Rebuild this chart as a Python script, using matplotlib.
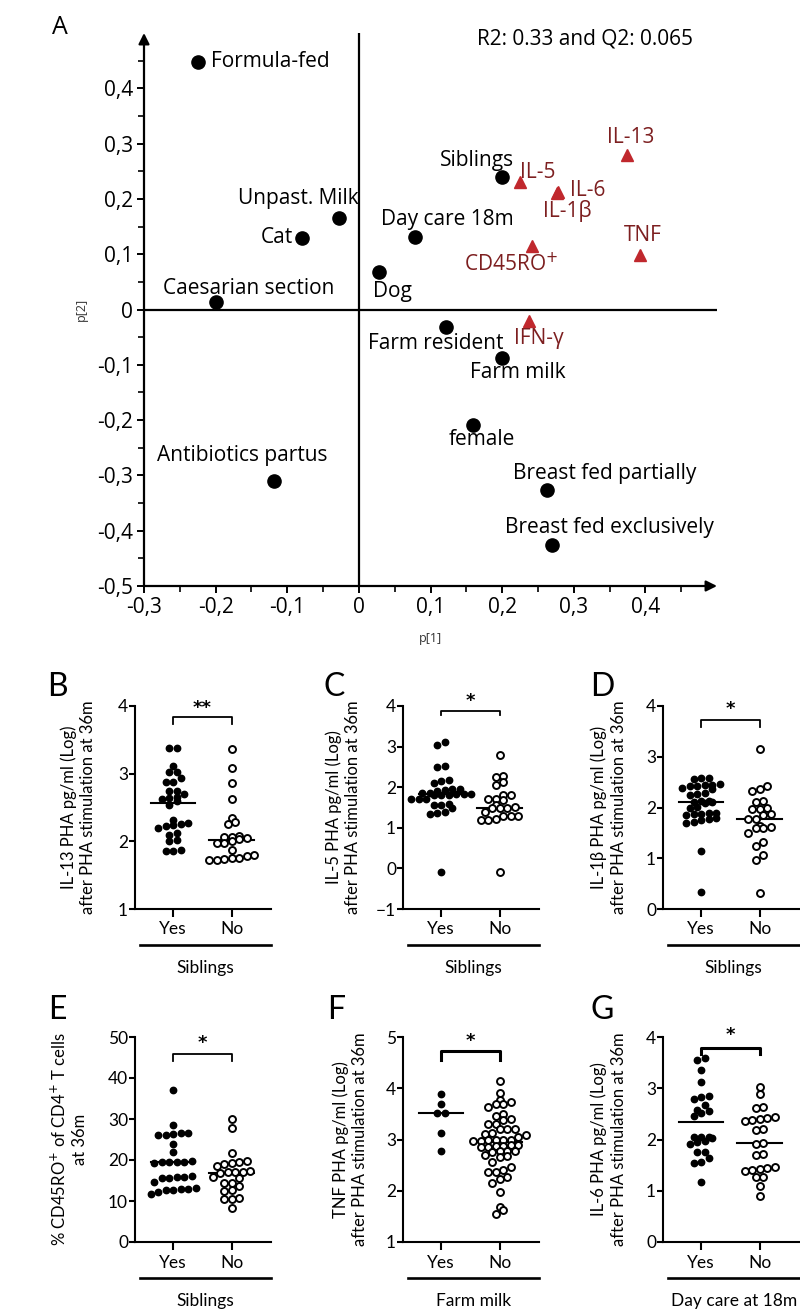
import numpy as np
import matplotlib
matplotlib.use('Agg')
import matplotlib.pyplot as plt
from matplotlib.ticker import FixedLocator, FuncFormatter

# ---- panel A: PCA loadings ----
var_names = ['Formula-fed', 'Unpast. Milk', 'Cat', 'Caesarian section', 'Dog',
             'Day care 18m', 'Siblings', 'Farm resident', 'Farm milk', 'female',
             'Breast fed partially', 'Breast fed exclusively', 'Antibiotics partus']
var_p1 = [-0.224, -0.028, -0.079, -0.200, 0.028, 0.078, 0.200, 0.122, 0.200, 0.160, 0.263, 0.269, -0.118]
var_p2 = [0.448, 0.165, 0.130, 0.013, 0.067, 0.132, 0.239, -0.031, -0.087, -0.208, -0.327, -0.425, -0.311]

cyt_names = ['IL-5', 'IL-6', 'IL-1β', 'IL-13', 'TNF', 'CD45RO$^{+}$', 'IFN-γ']
cyt_p1 = [0.225, 0.278, 0.277, 0.375, 0.393, 0.242, 0.238]
cyt_p2 = [0.231, 0.212, 0.210, 0.280, 0.098, 0.114, -0.020]

model_text = 'R2: 0.33 and Q2: 0.065'

# ---- panels B-G: scatter dot plots (Yes / No) ----
groups = ['Yes', 'No']

b_yes = [3.38, 3.38, 3.12, 3.03, 3.03, 2.94, 2.87, 2.87, 2.75, 2.75, 2.70, 2.66, 2.64, 2.63, 2.60,
         2.54, 2.32, 2.27, 2.25, 2.24, 2.22, 2.20, 2.12, 2.10, 2.02, 2.00, 1.87, 1.86, 1.85]
b_no = [3.37, 3.08, 2.86, 2.63, 2.35, 2.28, 2.26, 2.08, 2.07, 2.06, 2.05, 2.04, 2.00, 1.98, 1.97,
        1.87, 1.80, 1.78, 1.76, 1.75, 1.74, 1.73, 1.72]
b_med = [2.57, 2.02]

c_yes = [3.12, 3.03, 2.53, 2.50, 2.17, 2.15, 2.10, 1.96, 1.95, 1.93, 1.90, 1.86, 1.85, 1.84, 1.84,
         1.83, 1.82, 1.81, 1.80, 1.72, 1.71, 1.70, 1.58, 1.56, 1.55, 1.48, 1.38, 1.36, 1.35, -0.09]
c_no = [2.80, 2.27, 2.25, 2.14, 2.05, 1.82, 1.80, 1.72, 1.70, 1.68, 1.55, 1.52, 1.50, 1.50, 1.48,
        1.38, 1.30, 1.28, 1.28, 1.22, 1.20, 1.18, -0.10]
c_med = [1.83, 1.50]

d_yes = [2.58, 2.58, 2.56, 2.46, 2.45, 2.44, 2.43, 2.42, 2.38, 2.36, 2.28, 2.27, 2.25, 2.13, 2.12,
         2.11, 2.10, 2.09, 2.01, 1.99, 1.90, 1.89, 1.88, 1.87, 1.86, 1.79, 1.77, 1.76, 1.71, 1.70, 1.15, 0.33]
d_no = [3.16, 2.42, 2.36, 2.32, 2.12, 2.10, 1.99, 1.98, 1.97, 1.87, 1.86, 1.78, 1.77, 1.63, 1.61,
        1.60, 1.59, 1.50, 1.32, 1.24, 1.07, 0.97, 0.31]
d_med = [2.11, 1.77]

e_yes = [37.0, 28.6, 26.5, 26.3, 26.5, 26.0, 26.2, 23.8, 22.0, 19.8, 19.6, 19.5, 19.4, 19.4, 19.3,
         16.0, 15.9, 15.8, 15.5, 15.7, 14.6, 13.0, 12.9, 12.8, 12.6, 13.1, 12.2, 11.8]
e_no = [29.9, 27.8, 21.7, 19.7, 19.4, 19.0, 18.6, 19.2, 17.2, 17.0, 16.9, 17.0, 17.1, 15.8, 15.6,
        14.5, 14.3, 13.7, 12.8, 12.4, 10.7, 10.5, 10.6, 8.3]
e_med = [19.4, 16.9]

f_yes = [3.89, 3.70, 3.52, 3.52, 3.13, 2.77]
f_no = [4.14, 3.90, 3.78, 3.73, 3.69, 3.69, 3.63, 3.50, 3.46, 3.40, 3.39, 3.30, 3.30, 3.21, 3.21,
        3.21, 3.13, 3.11, 3.09, 3.05, 2.99, 2.99, 2.98, 2.98, 2.99, 2.99, 2.89, 2.89, 2.87, 2.87,
        2.85, 2.85, 2.78, 2.78, 2.78, 2.75, 2.70, 2.68, 2.66, 2.57, 2.46, 2.40, 2.37, 2.37, 2.22,
        2.26, 2.16, 1.97, 1.69, 1.62, 1.55]
f_med = [3.52, 2.95]

g_yes = [3.60, 3.55, 3.36, 3.13, 2.84, 2.82, 2.80, 2.67, 2.58, 2.55, 2.52, 2.45, 2.05, 2.04, 2.03,
         2.05, 1.97, 1.95, 1.92, 1.76, 1.76, 1.63, 1.56, 1.55, 1.17]
g_no = [3.03, 2.88, 2.63, 2.62, 2.44, 2.42, 2.40, 2.38, 2.37, 2.20, 2.18, 1.94, 1.92, 1.71, 1.69,
        1.47, 1.45, 1.42, 1.40, 1.39, 1.27, 1.26, 1.10, 0.89]
g_med = [2.34, 1.93]

ylabels = ['IL-13 PHA pg/ml (Log)\nafter PHA stimulation at 36m',
           'IL-5 PHA pg/ml (Log)\nafter PHA stimulation at 36m',
           'IL-1β PHA pg/ml (Log)\nafter PHA stimulation at 36m',
           '% CD45RO$^{+}$ of CD4$^{+}$ T cells\nat 36m',
           'TNF PHA pg/ml (Log)\nafter PHA stimulation at 36m',
           'IL-6 PHA pg/ml (Log)\nafter PHA stimulation at 36m']
group_titles = ['Siblings', 'Siblings', 'Siblings', 'Siblings', 'Farm milk', 'Day care at 18m']
stars = ['**', '*', '*', '*', '*', '*']
ylims = [(1, 4), (-1, 4), (0, 4), (0, 50), (1, 5), (0, 4)]
yticks = [[1, 2, 3, 4], [-1, 0, 1, 2, 3, 4], [0, 1, 2, 3, 4],
          [0, 10, 20, 30, 40, 50], [1, 2, 3, 4, 5], [0, 1, 2, 3, 4]]

# ---- styles / layout (pixels of an 800x1312 canvas) ----
FA = ['Open Sans', 'DejaVu Sans']
FB = ['Lato', 'DejaVu Sans']
DARKRED = '#7d1f20'
TRIRED = '#c0282d'
W, H = 800, 1312

# label offsets (points) and horizontal alignment for panel A
var_off = [(9, 0, 'left'), (14, 14, 'right'), (-7, 0, 'right'), (24, 10, 'center'),
           (-4, -14, 'left'), (-24, 12, 'left'), (-18, 12, 'center'), (41, -12, 'right'),
           (-23, -11, 'left'), (6, -11, 'center'), (41, 12, 'center'), (42, 12, 'center'),
           (-23, 19, 'center')]
cyt_off = [(0, 7, 'left'), (9, 1, 'left'), (7, -13, 'center'), (2, 12, 'center'),
           (2, 14, 'center'), (-15, -13, 'center'), (7, -13, 'center')]

# bracket top, bracket legs, star height (data units); bracket width
brackets = [(3.84, 3.74, 3.97, 1.3), (3.88, 3.77, 4.12, 1.3), (3.72, 3.59, 3.95, 1.3),
            (45.9, 44.1, 48.6, 1.3), (4.72, 4.56, 4.93, 2.2), (3.79, 3.67, 4.03, 2.2)]
cols = [135, 403, 663]
rows = [(909, 203), (1242, 205)]
ylab_x = [-0.42, -0.44, -0.40, -0.49, -0.39, -0.40]


def px_axes(fig, left, bottom, w, h):
    return fig.add_axes([left / W, 1 - bottom / H, w / W, h / H])


def swarm_offsets(vals, dy, dx):
    vals = np.asarray(vals, dtype=float)
    order = np.argsort(vals)
    offs = np.zeros(len(vals))
    row_groups, row, start = [], [], None
    for i in order:
        if start is None or vals[i] - start > dy:
            if row:
                row_groups.append(row)
            row, start = [i], vals[i]
        else:
            row.append(i)
    row_groups.append(row)
    for r in row_groups:
        n = len(r)
        for k, i in enumerate(r):
            offs[i] = (k - (n - 1) / 2) * dx
    return offs


fig = plt.figure(figsize=(8, 13.12), dpi=100)

# ================= panel A =================
ax = px_axes(fig, 144, 586, 573, 553)
ax.set_xlim(-0.3, 0.5)
ax.set_ylim(-0.5, 0.5)
for s in ax.spines.values():
    s.set_visible(False)
ax.annotate('', xy=(1.0, 0), xytext=(0, 0), xycoords='axes fraction',
            arrowprops=dict(arrowstyle='-|>', lw=1.6, color='black', mutation_scale=16, shrinkA=0, shrinkB=0))
ax.annotate('', xy=(0, 1.0), xytext=(0, 0), xycoords='axes fraction',
            arrowprops=dict(arrowstyle='-|>', lw=1.6, color='black', mutation_scale=16, shrinkA=0, shrinkB=0))
ax.axhline(0, color='black', lw=1.6, zorder=1)
ax.axvline(0, color='black', lw=1.6, zorder=1)

ax.xaxis.set_major_locator(FixedLocator(np.round(np.arange(-0.3, 0.41, 0.1), 2)))
ax.xaxis.set_minor_locator(FixedLocator(np.round(np.arange(-0.25, 0.46, 0.1), 2)))
ax.yaxis.set_major_locator(FixedLocator(np.round(np.arange(-0.5, 0.41, 0.1), 2)))
ax.yaxis.set_minor_locator(FixedLocator(np.round(np.arange(-0.45, 0.46, 0.1), 2)))
fmt = FuncFormatter(lambda v, p: '0' if abs(v) < 1e-9 else f'{v:.1f}'.replace('.', ','))
ax.xaxis.set_major_formatter(fmt)
ax.yaxis.set_major_formatter(fmt)
ax.tick_params(which='major', length=5, width=1.4, labelsize=15, pad=3)
ax.tick_params(which='minor', length=4, width=1.2)
for lab in ax.get_xticklabels() + ax.get_yticklabels():
    lab.set_family(FA)

ax.plot(var_p1, var_p2, 'o', color='black', ms=9.5, zorder=3)
ax.plot(cyt_p1, cyt_p2, '^', color=TRIRED, ms=9, zorder=3)
for name, x, y, (dx, dy, ha) in zip(var_names, var_p1, var_p2, var_off):
    ax.annotate(name, (x, y), xytext=(dx, dy), textcoords='offset points', ha=ha, va='center',
                fontsize=15, family=FA, color='black', zorder=4)
for name, x, y, (dx, dy, ha) in zip(cyt_names, cyt_p1, cyt_p2, cyt_off):
    ax.annotate(name, (x, y), xytext=(dx, dy), textcoords='offset points', ha=ha, va='center',
                fontsize=15, family=FA, color=DARKRED, zorder=4)

ax.text(0.77, 0.99, model_text, transform=ax.transAxes, ha='center', va='center', fontsize=15, family=FA)
ax.set_xlabel('p[1]', fontsize=9, family=FA, color='#333333', labelpad=6)
ax.set_ylabel('p[2]', fontsize=9, family=FA, color='#333333')
ax.yaxis.set_label_coords(-0.098, 0.5)
ax.xaxis.set_label_coords(0.5, -0.083)
fig.text(60 / W, 1 - 28 / H, 'A', fontsize=18, family=FA, ha='center', va='center')

# ================= panels B-G =================
yes_sets = [b_yes, c_yes, d_yes, e_yes, f_yes, g_yes]
no_sets = [b_no, c_no, d_no, e_no, f_no, g_no]
med_sets = [b_med, c_med, d_med, e_med, f_med, g_med]
letters = ['B', 'C', 'D', 'E', 'F', 'G']

for i in range(6):
    r, c = divmod(i, 3)
    bottom, height = rows[r]
    ax = px_axes(fig, cols[c], bottom, 136, height)
    xl = (-0.65, 1.67)
    ax.set_xlim(*xl)
    ax.set_ylim(*ylims[i])
    ax.spines['top'].set_visible(False)
    ax.spines['right'].set_visible(False)
    ax.spines['left'].set_linewidth(1.5)
    ax.spines['bottom'].set_linewidth(1.5)
    ax.set_yticks(yticks[i])
    ax.set_xticks([0, 1])
    ax.set_xticklabels(groups)
    ax.tick_params(axis='y', length=4, width=1.5, labelsize=12.5, pad=1)
    ax.tick_params(axis='x', length=6, width=1.5, labelsize=12.5, pad=3)
    for lab in ax.get_xticklabels() + ax.get_yticklabels():
        lab.set_family(FB)

    yr = ylims[i][1] - ylims[i][0]
    dy = 6.0 * yr / ax.bbox.height
    dx = 7.5 * (xl[1] - xl[0]) / ax.bbox.width
    for k, vals in enumerate([yes_sets[i], no_sets[i]]):
        xs = k + swarm_offsets(vals, dy, dx)
        if k == 0:
            ax.plot(xs, vals, 'o', color='black', ms=4.6, clip_on=False, zorder=3)
        else:
            ax.plot(xs, vals, 'o', mfc='white', mec='black', mew=1.4, ms=5.0, clip_on=False, zorder=3)
        ax.plot([k - 0.38, k + 0.38], [med_sets[i][k]] * 2, color='black', lw=1.5, zorder=2)

    top, leg, sy, blw = brackets[i]
    ax.plot([0, 0, 1, 1], [leg, top, top, leg], color='black', lw=blw, clip_on=False)
    ax.text(0.5, sy, stars[i], ha='center', va='center', fontsize=13, family=['DejaVu Sans'],
            fontweight='bold', clip_on=False)

    ax.text(ylab_x[i], 0.5, ylabels[i], transform=ax.transAxes, rotation=90, ha='center', va='center',
            fontsize=12, family=FB, linespacing=1.25)
    ax.plot([0.04, 1.0], [-0.177, -0.177], transform=ax.transAxes, color='black', lw=1.9, clip_on=False)
    ax.text(0.52, -0.29, group_titles[i], transform=ax.transAxes, ha='center', va='center',
            fontsize=12.5, family=FB)

letter_pos = [(57, 687), (334, 687), (602, 687), (57, 1010), (336, 1010), (602, 1010)]
for L, (x, y) in zip(letters, letter_pos):
    fig.text(x / W, 1 - y / H, L, fontsize=23, family=FB, ha='center', va='center')

fig.savefig('out.png', dpi=100)
